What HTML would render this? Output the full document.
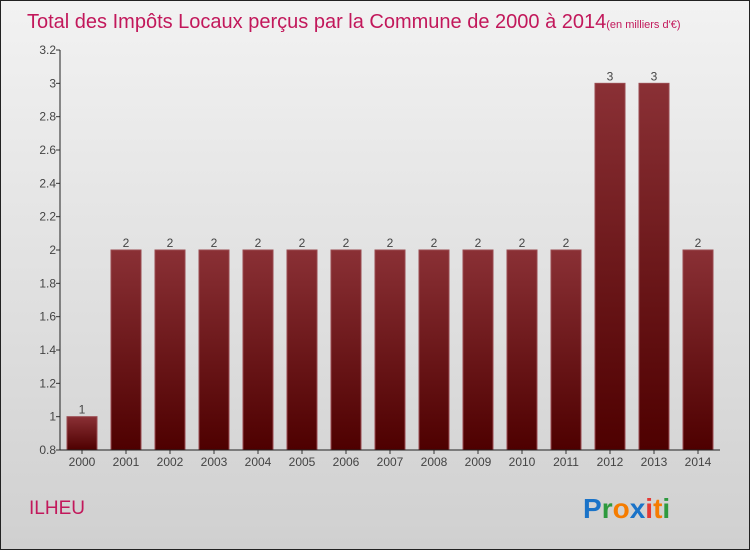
<!DOCTYPE html>
<html><head><meta charset="utf-8"><style>
body{margin:0;width:750px;height:550px;overflow:hidden;font-family:"Liberation Sans",sans-serif;}
#wrap{position:relative;width:748px;height:548px;border:1px solid #222;background:linear-gradient(#f2f2f2,#d0d0d0);}
</style></head><body>
<div id="wrap">
<svg id="chart" width="748" height="548">
<defs><linearGradient id="bg" x1="0" y1="0" x2="0" y2="1"><stop offset="0" stop-color="#8a3035"/><stop offset="1" stop-color="#4e0000"/></linearGradient></defs>
<text x="26" y="27" font-size="20" fill="#c2185b">Total des Impôts Locaux perçus par la Commune de 2000 à 2014<tspan font-size="11">(en milliers d'€)</tspan></text>
<text x="28" y="513" font-size="19" fill="#c2185b">ILHEU</text>
<g font-size="28" font-family="'Liberation Sans',sans-serif" font-weight="bold">
<text x="582" y="517"><tspan fill="#1a73c8">P</tspan><tspan fill="#2e9a3e">r</tspan><tspan fill="#f57c00">o</tspan><tspan fill="#1a73c8">x</tspan><tspan fill="#e53935">i</tspan><tspan fill="#f57c00">t</tspan><tspan fill="#2e9a3e">i</tspan></text>
</g>
<g id="plot"></g>
</svg>
</div>
<script>
const categories=["2000","2001","2002","2003","2004","2005","2006","2007","2008","2009","2010","2011","2012","2013","2014"];
const values=[1,2,2,2,2,2,2,2,2,2,2,2,3,3,2];
const labels=["1","2","2","2","2","2","2","2","2","2","2","2","3","3","2"];
const yTicks=[0.8,1,1.2,1.4,1.6,1.8,2,2.2,2.4,2.6,2.8,3,3.2];
const yMin=0.8,yMax=3.2,plotTop=49,plotBot=449,plotLeft=59,plotRight=719;
const yS=v=>plotBot-(v-yMin)/(yMax-yMin)*(plotBot-plotTop);
const xS=i=>81+i*44;
const g=document.getElementById('plot');const NS="http://www.w3.org/2000/svg";
function mk(t,a){const e=document.createElementNS(NS,t);for(const k in a)e.setAttribute(k,a[k]);g.appendChild(e);return e;}
yTicks.forEach(t=>{
 const l=mk('line',{x1:plotLeft-4,x2:plotLeft,y1:yS(t),y2:yS(t),stroke:'#333'});
 
 
 const tx=mk('text',{x:plotLeft-4,y:yS(t)+4,'font-size':12,'text-anchor':'end',fill:'#444'});
 tx.textContent=String(t);
 
 
});
categories.forEach((c,i)=>{
 const b=mk('rect',{x:xS(i)-15,y:yS(values[i]),width:30,height:plotBot-yS(values[i]),fill:'url(#bg)',stroke:'#9a4a50','stroke-width':1});
 
 
 const v=mk('text',{x:xS(i),y:yS(values[i])-3,'font-size':12,'text-anchor':'middle',fill:'#444'});
 v.textContent=labels[i];
 
 
 const tk=mk('line',{x1:xS(i),x2:xS(i),y1:plotBot,y2:plotBot+4,stroke:'#333'});
 
 
 const xl=mk('text',{x:xS(i),y:plotBot+16,'font-size':12,'text-anchor':'middle',fill:'#444'});
 xl.textContent=c;
 
 
});
const ya=mk('line',{x1:plotLeft,x2:plotLeft,y1:plotTop,y2:plotBot,stroke:'#222'});


const xa=mk('line',{x1:plotLeft,x2:plotRight,y1:plotBot,y2:plotBot,stroke:'#222'});


</script>
</body></html>
